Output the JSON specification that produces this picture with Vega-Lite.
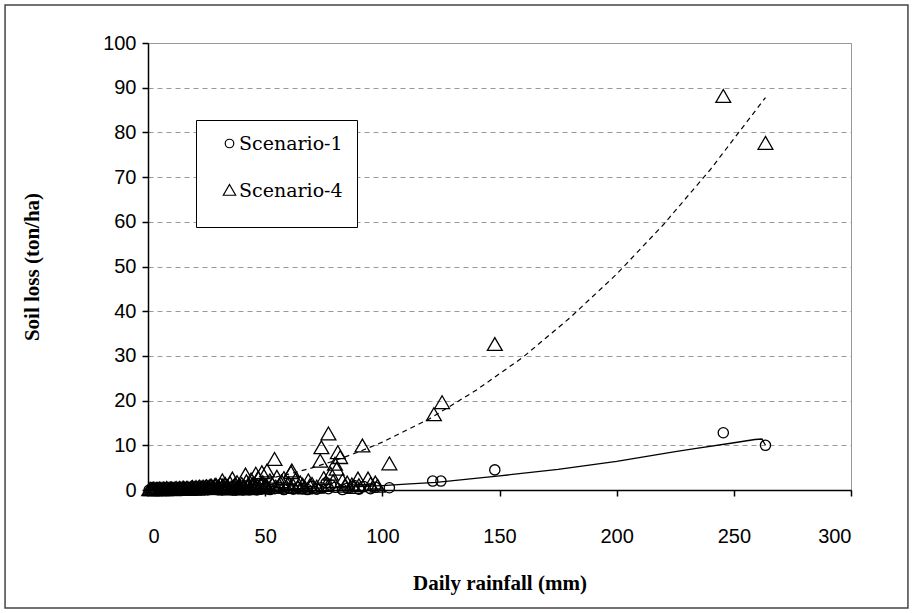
{
  "$schema": "https://vega.github.io/schema/vega-lite/v6.json",
  "width": 703,
  "height": 447,
  "autosize": {"type": "none"},
  "padding": {"left": 148, "top": 43, "right": 62, "bottom": 123},
  "background": "white",
  "config": {
    "view": {"stroke": "#999999", "strokeWidth": 1},
    "axis": {
      "labelFont": "Liberation Sans",
      "labelFontSize": 20,
      "labelColor": "black",
      "titleFont": "Liberation Serif",
      "titleFontSize": 21,
      "titleFontWeight": "bold",
      "titleColor": "black",
      "domainColor": "black",
      "tickColor": "black",
      "tickSize": 6,
      "domainWidth": 1.5,
      "tickWidth": 1.5
    },
    "legend": {
      "labelFont": "DejaVu Serif",
      "labelFontSize": 19,
      "labelColor": "black"
    }
  },
  "datasets": {
    "pts": [
      {"series": "Scenario-4", "rain": 245.5, "loss": 88},
      {"series": "Scenario-4", "rain": 263.5, "loss": 77.5},
      {"series": "Scenario-4", "rain": 148, "loss": 32.5},
      {"series": "Scenario-4", "rain": 125.5, "loss": 19.5},
      {"series": "Scenario-4", "rain": 122, "loss": 16.8},
      {"series": "Scenario-4", "rain": 103, "loss": 5.8},
      {"series": "Scenario-4", "rain": 91.5, "loss": 9.8},
      {"series": "Scenario-4", "rain": 77, "loss": 12.5},
      {"series": "Scenario-4", "rain": 74, "loss": 9.4},
      {"series": "Scenario-4", "rain": 73.5, "loss": 6.4},
      {"series": "Scenario-4", "rain": 81, "loss": 8.3},
      {"series": "Scenario-4", "rain": 82, "loss": 7.2},
      {"series": "Scenario-4", "rain": 79.8, "loss": 5.7},
      {"series": "Scenario-4", "rain": 80.5, "loss": 4.6},
      {"series": "Scenario-4", "rain": 54, "loss": 6.8},
      {"series": "Scenario-4", "rain": 50.8, "loss": 4.2},
      {"series": "Scenario-4", "rain": 61.4, "loss": 4.2},
      {"series": "Scenario-4", "rain": 68.4, "loss": 2},
      {"series": "Scenario-4", "rain": 89.6, "loss": 2.4},
      {"series": "Scenario-4", "rain": 93.9, "loss": 2.4},
      {"series": "Scenario-4", "rain": 48.6, "loss": 3.8},
      {"series": "Scenario-4", "rain": 41.6, "loss": 3.3},
      {"series": "Scenario-4", "rain": 61, "loss": 3.8},
      {"series": "Scenario-4", "rain": 36, "loss": 2.4},
      {"series": "Scenario-4", "rain": 31.7, "loss": 2},
      {"series": "Scenario-4", "rain": 46, "loss": 3.5},
      {"series": "Scenario-4", "rain": 58, "loss": 2.5},
      {"series": "Scenario-4", "rain": 65, "loss": 1.5},
      {"series": "Scenario-4", "rain": 85, "loss": 1.5},
      {"series": "Scenario-4", "rain": 95, "loss": 1.2},
      {"series": "Scenario-4", "rain": 98, "loss": 0.8},
      {"series": "Scenario-4", "rain": 75, "loss": 2.5},
      {"series": "Scenario-4", "rain": 78, "loss": 3.5},
      {"series": "Scenario-4", "rain": 83, "loss": 2},
      {"series": "Scenario-4", "rain": 0.5, "loss": 0},
      {"series": "Scenario-4", "rain": 1, "loss": 0.1},
      {"series": "Scenario-4", "rain": 1.5, "loss": 0},
      {"series": "Scenario-4", "rain": 2, "loss": 0.1},
      {"series": "Scenario-4", "rain": 2.5, "loss": 0.2},
      {"series": "Scenario-4", "rain": 3, "loss": 0},
      {"series": "Scenario-4", "rain": 3.5, "loss": 0.1},
      {"series": "Scenario-4", "rain": 4, "loss": 0.1},
      {"series": "Scenario-4", "rain": 4.5, "loss": 0},
      {"series": "Scenario-4", "rain": 5, "loss": 0.2},
      {"series": "Scenario-4", "rain": 5.5, "loss": 0.1},
      {"series": "Scenario-4", "rain": 6, "loss": 0},
      {"series": "Scenario-4", "rain": 6.5, "loss": 0.2},
      {"series": "Scenario-4", "rain": 7, "loss": 0.1},
      {"series": "Scenario-4", "rain": 7.5, "loss": 0},
      {"series": "Scenario-4", "rain": 8, "loss": 0.3},
      {"series": "Scenario-4", "rain": 8.5, "loss": 0.1},
      {"series": "Scenario-4", "rain": 9, "loss": 0.1},
      {"series": "Scenario-4", "rain": 9.5, "loss": 0.2},
      {"series": "Scenario-4", "rain": 10, "loss": 0.2},
      {"series": "Scenario-4", "rain": 10.5, "loss": 0.1},
      {"series": "Scenario-4", "rain": 11, "loss": 0},
      {"series": "Scenario-4", "rain": 11.5, "loss": 0.2},
      {"series": "Scenario-4", "rain": 12, "loss": 0.3},
      {"series": "Scenario-4", "rain": 12.5, "loss": 0.1},
      {"series": "Scenario-4", "rain": 13, "loss": 0.1},
      {"series": "Scenario-4", "rain": 13.5, "loss": 0.3},
      {"series": "Scenario-4", "rain": 14, "loss": 0.2},
      {"series": "Scenario-4", "rain": 14.5, "loss": 0.1},
      {"series": "Scenario-4", "rain": 15, "loss": 0.4},
      {"series": "Scenario-4", "rain": 15.5, "loss": 0.2},
      {"series": "Scenario-4", "rain": 16, "loss": 0.1},
      {"series": "Scenario-4", "rain": 16.5, "loss": 0.3},
      {"series": "Scenario-4", "rain": 17, "loss": 0.3},
      {"series": "Scenario-4", "rain": 17.5, "loss": 0.1},
      {"series": "Scenario-4", "rain": 18, "loss": 0.2},
      {"series": "Scenario-4", "rain": 18.5, "loss": 0.4},
      {"series": "Scenario-4", "rain": 19, "loss": 0.5},
      {"series": "Scenario-4", "rain": 19.5, "loss": 0.2},
      {"series": "Scenario-4", "rain": 20, "loss": 0.3},
      {"series": "Scenario-4", "rain": 20.5, "loss": 0.5},
      {"series": "Scenario-4", "rain": 21, "loss": 0.2},
      {"series": "Scenario-4", "rain": 21.5, "loss": 0.4},
      {"series": "Scenario-4", "rain": 22, "loss": 0.6},
      {"series": "Scenario-4", "rain": 22.5, "loss": 0.3},
      {"series": "Scenario-4", "rain": 23, "loss": 0.4},
      {"series": "Scenario-4", "rain": 23.5, "loss": 0.6},
      {"series": "Scenario-4", "rain": 24, "loss": 0.3},
      {"series": "Scenario-4", "rain": 24.5, "loss": 0.5},
      {"series": "Scenario-4", "rain": 25, "loss": 0.7},
      {"series": "Scenario-4", "rain": 25.5, "loss": 0.4},
      {"series": "Scenario-4", "rain": 26, "loss": 0.5},
      {"series": "Scenario-4", "rain": 26.5, "loss": 0.8},
      {"series": "Scenario-4", "rain": 27, "loss": 0.8},
      {"series": "Scenario-4", "rain": 27.5, "loss": 0.5},
      {"series": "Scenario-4", "rain": 28, "loss": 0.4},
      {"series": "Scenario-4", "rain": 28.5, "loss": 0.9},
      {"series": "Scenario-4", "rain": 29, "loss": 1.0},
      {"series": "Scenario-4", "rain": 29.5, "loss": 0.5},
      {"series": "Scenario-4", "rain": 30, "loss": 0.6},
      {"series": "Scenario-4", "rain": 30.5, "loss": 0.3},
      {"series": "Scenario-4", "rain": 31, "loss": 1.1},
      {"series": "Scenario-4", "rain": 31.5, "loss": 0.4},
      {"series": "Scenario-4", "rain": 32, "loss": 0.9},
      {"series": "Scenario-4", "rain": 32.5, "loss": 0.3},
      {"series": "Scenario-4", "rain": 33, "loss": 1.2},
      {"series": "Scenario-4", "rain": 33.5, "loss": 0.5},
      {"series": "Scenario-4", "rain": 34, "loss": 0.7},
      {"series": "Scenario-4", "rain": 34.5, "loss": 0.2},
      {"series": "Scenario-4", "rain": 35, "loss": 1.4},
      {"series": "Scenario-4", "rain": 35.5, "loss": 0.4},
      {"series": "Scenario-4", "rain": 36.5, "loss": 0.6},
      {"series": "Scenario-4", "rain": 37, "loss": 1.0},
      {"series": "Scenario-4", "rain": 37.5, "loss": 0.3},
      {"series": "Scenario-4", "rain": 38, "loss": 1.6},
      {"series": "Scenario-4", "rain": 38.5, "loss": 0.5},
      {"series": "Scenario-4", "rain": 39, "loss": 0.8},
      {"series": "Scenario-4", "rain": 39.5, "loss": 0.2},
      {"series": "Scenario-4", "rain": 40, "loss": 1.2},
      {"series": "Scenario-4", "rain": 40.5, "loss": 0.4},
      {"series": "Scenario-4", "rain": 41, "loss": 0.7},
      {"series": "Scenario-4", "rain": 42, "loss": 1.8},
      {"series": "Scenario-4", "rain": 42.5, "loss": 0.5},
      {"series": "Scenario-4", "rain": 43, "loss": 1.0},
      {"series": "Scenario-4", "rain": 43.5, "loss": 0.3},
      {"series": "Scenario-4", "rain": 44, "loss": 2.2},
      {"series": "Scenario-4", "rain": 44.5, "loss": 0.6},
      {"series": "Scenario-4", "rain": 45, "loss": 1.4},
      {"series": "Scenario-4", "rain": 45.5, "loss": 0.4},
      {"series": "Scenario-4", "rain": 46.5, "loss": 0.8},
      {"series": "Scenario-4", "rain": 47, "loss": 2.6},
      {"series": "Scenario-4", "rain": 47.5, "loss": 0.5},
      {"series": "Scenario-4", "rain": 48, "loss": 1.1},
      {"series": "Scenario-4", "rain": 49, "loss": 1.6},
      {"series": "Scenario-4", "rain": 49.5, "loss": 0.4},
      {"series": "Scenario-4", "rain": 50, "loss": 0.9},
      {"series": "Scenario-4", "rain": 51, "loss": 0.5},
      {"series": "Scenario-4", "rain": 52, "loss": 2.0},
      {"series": "Scenario-4", "rain": 53, "loss": 1.2},
      {"series": "Scenario-4", "rain": 54.5, "loss": 0.6},
      {"series": "Scenario-4", "rain": 55, "loss": 2.8},
      {"series": "Scenario-4", "rain": 56, "loss": 1.0},
      {"series": "Scenario-4", "rain": 57, "loss": 1.8},
      {"series": "Scenario-4", "rain": 59, "loss": 0.6},
      {"series": "Scenario-4", "rain": 60, "loss": 1.4},
      {"series": "Scenario-4", "rain": 62, "loss": 0.8},
      {"series": "Scenario-4", "rain": 63, "loss": 2.2},
      {"series": "Scenario-4", "rain": 64, "loss": 0.5},
      {"series": "Scenario-4", "rain": 66, "loss": 1.0},
      {"series": "Scenario-4", "rain": 67, "loss": 0.4},
      {"series": "Scenario-4", "rain": 69, "loss": 0.8},
      {"series": "Scenario-4", "rain": 70, "loss": 1.2},
      {"series": "Scenario-4", "rain": 72, "loss": 0.6},
      {"series": "Scenario-4", "rain": 76, "loss": 1.0},
      {"series": "Scenario-4", "rain": 79, "loss": 1.8},
      {"series": "Scenario-4", "rain": 84, "loss": 0.8},
      {"series": "Scenario-4", "rain": 87, "loss": 1.1},
      {"series": "Scenario-4", "rain": 88, "loss": 0.5},
      {"series": "Scenario-4", "rain": 90, "loss": 0.9},
      {"series": "Scenario-4", "rain": 97, "loss": 1.5},
      {"series": "Scenario-1", "rain": 263.5, "loss": 10},
      {"series": "Scenario-1", "rain": 245.5, "loss": 12.8},
      {"series": "Scenario-1", "rain": 148, "loss": 4.5},
      {"series": "Scenario-1", "rain": 121.5, "loss": 2},
      {"series": "Scenario-1", "rain": 125, "loss": 2},
      {"series": "Scenario-1", "rain": 103, "loss": 0.5},
      {"series": "Scenario-1", "rain": 92, "loss": 0.8},
      {"series": "Scenario-1", "rain": 95, "loss": 0.3},
      {"series": "Scenario-1", "rain": 97, "loss": 0.6},
      {"series": "Scenario-1", "rain": 90, "loss": 0.2},
      {"series": "Scenario-1", "rain": 88, "loss": 1.0},
      {"series": "Scenario-1", "rain": 85, "loss": 0.4},
      {"series": "Scenario-1", "rain": 83, "loss": 0.1},
      {"series": "Scenario-1", "rain": 80, "loss": 0.6},
      {"series": "Scenario-1", "rain": 78, "loss": 1.1},
      {"series": "Scenario-1", "rain": 77, "loss": 0.3},
      {"series": "Scenario-1", "rain": 76, "loss": 1.6},
      {"series": "Scenario-1", "rain": 74, "loss": 0.5},
      {"series": "Scenario-1", "rain": 72, "loss": 0.2},
      {"series": "Scenario-1", "rain": 70, "loss": 0.8},
      {"series": "Scenario-1", "rain": 68, "loss": 0.1},
      {"series": "Scenario-1", "rain": 66, "loss": 0.3},
      {"series": "Scenario-1", "rain": 64, "loss": 0.5},
      {"series": "Scenario-1", "rain": 62, "loss": 0.2},
      {"series": "Scenario-1", "rain": 60, "loss": 0.4},
      {"series": "Scenario-1", "rain": 58, "loss": 0.1},
      {"series": "Scenario-1", "rain": 56, "loss": 0.6},
      {"series": "Scenario-1", "rain": 54, "loss": 0.3},
      {"series": "Scenario-1", "rain": 52, "loss": 0.1},
      {"series": "Scenario-1", "rain": 50, "loss": 0.4},
      {"series": "Scenario-1", "rain": 48, "loss": 0.2},
      {"series": "Scenario-1", "rain": 46.5, "loss": 0.0},
      {"series": "Scenario-1", "rain": 45, "loss": 0.1},
      {"series": "Scenario-1", "rain": 43.5, "loss": 0.0},
      {"series": "Scenario-1", "rain": 42, "loss": 0.2},
      {"series": "Scenario-1", "rain": 40.5, "loss": 0.0},
      {"series": "Scenario-1", "rain": 39, "loss": 0.1},
      {"series": "Scenario-1", "rain": 37.5, "loss": 0.0},
      {"series": "Scenario-1", "rain": 36, "loss": 0.0},
      {"series": "Scenario-1", "rain": 34.5, "loss": 0.1},
      {"series": "Scenario-1", "rain": 33, "loss": 0.1},
      {"series": "Scenario-1", "rain": 31.5, "loss": 0.0},
      {"series": "Scenario-1", "rain": 30, "loss": 0.0},
      {"series": "Scenario-1", "rain": 28.5, "loss": 0.1},
      {"series": "Scenario-1", "rain": 27, "loss": 0.1},
      {"series": "Scenario-1", "rain": 25.5, "loss": 0.0},
      {"series": "Scenario-1", "rain": 24, "loss": 0.0},
      {"series": "Scenario-1", "rain": 22.5, "loss": 0.0},
      {"series": "Scenario-1", "rain": 21, "loss": 0.0},
      {"series": "Scenario-1", "rain": 19.5, "loss": 0.1},
      {"series": "Scenario-1", "rain": 18, "loss": 0.1},
      {"series": "Scenario-1", "rain": 16.5, "loss": 0.0},
      {"series": "Scenario-1", "rain": 15, "loss": 0.0},
      {"series": "Scenario-1", "rain": 13.5, "loss": 0.0},
      {"series": "Scenario-1", "rain": 12, "loss": 0.0},
      {"series": "Scenario-1", "rain": 10.5, "loss": 0.0},
      {"series": "Scenario-1", "rain": 9, "loss": 0.0},
      {"series": "Scenario-1", "rain": 7.5, "loss": 0.0},
      {"series": "Scenario-1", "rain": 6, "loss": 0.0},
      {"series": "Scenario-1", "rain": 4.5, "loss": 0.0},
      {"series": "Scenario-1", "rain": 3, "loss": 0.0},
      {"series": "Scenario-1", "rain": 1.5, "loss": 0.0},
      {"series": "Scenario-1", "rain": 0.5, "loss": 0.0}
    ],
    "trend": [
      {"series": "Scenario-4", "rain": 1, "loss": 0.0},
      {"series": "Scenario-4", "rain": 10, "loss": 0.07},
      {"series": "Scenario-4", "rain": 20, "loss": 0.33},
      {"series": "Scenario-4", "rain": 30, "loss": 0.79},
      {"series": "Scenario-4", "rain": 40, "loss": 1.47},
      {"series": "Scenario-4", "rain": 50, "loss": 2.39},
      {"series": "Scenario-4", "rain": 60, "loss": 3.54},
      {"series": "Scenario-4", "rain": 70, "loss": 4.95},
      {"series": "Scenario-4", "rain": 80, "loss": 6.61},
      {"series": "Scenario-4", "rain": 90, "loss": 8.54},
      {"series": "Scenario-4", "rain": 100, "loss": 10.7},
      {"series": "Scenario-4", "rain": 120, "loss": 15.9},
      {"series": "Scenario-4", "rain": 140, "loss": 22.3},
      {"series": "Scenario-4", "rain": 160, "loss": 29.7},
      {"series": "Scenario-4", "rain": 180, "loss": 38.5},
      {"series": "Scenario-4", "rain": 200, "loss": 48.3},
      {"series": "Scenario-4", "rain": 220, "loss": 59.4},
      {"series": "Scenario-4", "rain": 240, "loss": 71.7},
      {"series": "Scenario-4", "rain": 263.5, "loss": 87.8},
      {"series": "Scenario-1", "rain": 1, "loss": 0},
      {"series": "Scenario-1", "rain": 20, "loss": 0.02},
      {"series": "Scenario-1", "rain": 40, "loss": 0.1},
      {"series": "Scenario-1", "rain": 60, "loss": 0.25},
      {"series": "Scenario-1", "rain": 80, "loss": 0.55},
      {"series": "Scenario-1", "rain": 100, "loss": 1.0},
      {"series": "Scenario-1", "rain": 110, "loss": 1.3},
      {"series": "Scenario-1", "rain": 123, "loss": 1.7},
      {"series": "Scenario-1", "rain": 149, "loss": 3.1},
      {"series": "Scenario-1", "rain": 175, "loss": 4.6},
      {"series": "Scenario-1", "rain": 200, "loss": 6.4},
      {"series": "Scenario-1", "rain": 225, "loss": 8.6},
      {"series": "Scenario-1", "rain": 234, "loss": 9.3},
      {"series": "Scenario-1", "rain": 248, "loss": 10.4},
      {"series": "Scenario-1", "rain": 259, "loss": 11.3},
      {"series": "Scenario-1", "rain": 262, "loss": 11.4},
      {"series": "Scenario-1", "rain": 263.5, "loss": 10.0}
    ],
    "frame": [
      {"x1": -61, "x2": 324.3, "y1": -26.4, "y2": 108.5}
    ]
  },
  "layer": [
    {
      "data": {"name": "frame"},
      "mark": {"type": "rect", "fill": null, "stroke": "#444444", "strokeWidth": 1.5, "clip": false},
      "encoding": {
        "x": {"field": "x1", "type": "quantitative", "scale": {"domain": [0, 300], "nice": false, "zero": false}},
        "x2": {"field": "x2"},
        "y": {"field": "y1", "type": "quantitative", "scale": {"domain": [0, 100], "nice": false, "zero": false}},
        "y2": {"field": "y2"}
      }
    },
    {
      "data": {"name": "trend"},
      "transform": [{"filter": "datum.series === 'Scenario-1'"}],
      "mark": {"type": "line", "color": "black", "strokeWidth": 1.3},
      "encoding": {
        "x": {"field": "rain", "type": "quantitative"},
        "y": {"field": "loss", "type": "quantitative"}
      }
    },
    {
      "data": {"name": "trend"},
      "transform": [{"filter": "datum.series === 'Scenario-4'"}],
      "mark": {"type": "line", "color": "black", "strokeWidth": 1.2, "strokeDash": [5, 4]},
      "encoding": {
        "x": {"field": "rain", "type": "quantitative"},
        "y": {"field": "loss", "type": "quantitative"}
      }
    },
    {
      "data": {"name": "pts"},
      "mark": {"type": "point", "filled": false, "stroke": "black", "strokeWidth": 1.3, "opacity": 1, "size": 130},
      "encoding": {
        "x": {
          "field": "rain",
          "type": "quantitative",
          "title": "Daily rainfall (mm)",
          "axis": {
            "values": [0, 50, 100, 150, 200, 250, 300],
            "labelPadding": 30,
            "titlePadding": 26,
            "grid": false
          }
        },
        "y": {
          "field": "loss",
          "type": "quantitative",
          "title": "Soil loss (ton/ha)",
          "axis": {
            "values": [0, 10, 20, 30, 40, 50, 60, 70, 80, 90, 100],
            "labelPadding": 6,
            "titlePadding": 60,
            "grid": true,
            "gridColor": "#999999",
            "gridDash": [5, 4],
            "gridWidth": 1
          }
        },
        "shape": {
          "field": "series",
          "type": "nominal",
          "scale": {
            "domain": ["Scenario-1", "Scenario-4"],
            "range": ["M-0.9,0A0.9,0.9 0 1,0 0.9,0A0.9,0.9 0 1,0 -0.9,0Z", "M0,-1.25L1.3,1L-1.3,1Z"]
          },
          "legend": {
            "title": " ",
            "titleOrient": "bottom",
            "titleFontSize": 4,
            "titlePadding": 8,
            "orient": "none",
            "legendX": 48,
            "legendY": 77,
            "strokeColor": "black",
            "fillColor": "white",
            "padding": 14,
            "rowPadding": 27,
            "symbolStrokeColor": "black",
            "symbolFillColor": "transparent",
            "symbolSize": 90,
            "symbolStrokeWidth": 1.2,
            "symbolOffset": 10,
            "labelOffset": 0
          }
        }
      }
    }
  ]
}
